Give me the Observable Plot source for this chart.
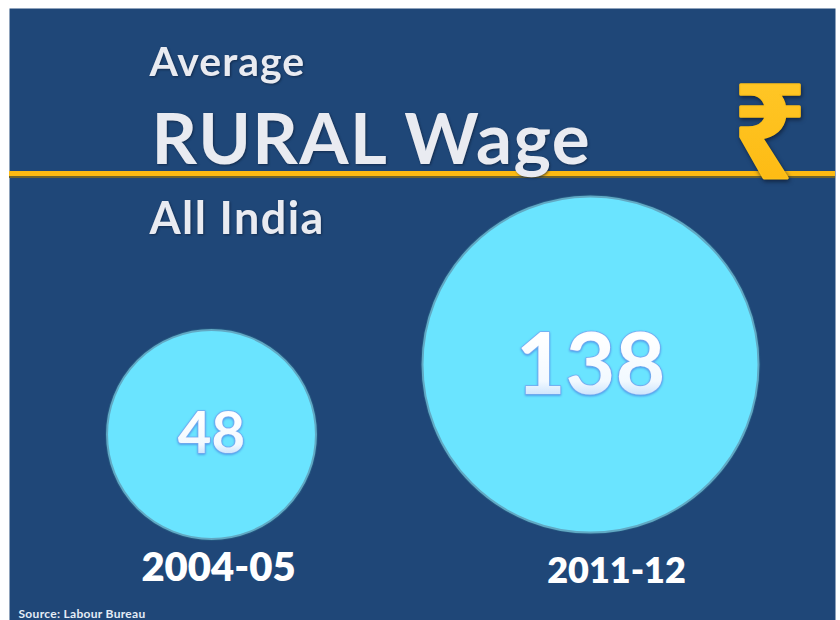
<!DOCTYPE html>
<html>
<head>
<meta charset="utf-8">
<script src="https://cdn.jsdelivr.net/npm/d3@7"></script>
<script src="https://cdn.jsdelivr.net/npm/@observablehq/plot@0.6"></script>
<style>
html,body{margin:0;padding:0;background:#fff;overflow:hidden}
svg{display:block}
.soft text{filter:drop-shadow(1px 1px 1px rgba(10,25,50,.6))}
.ls1 text{letter-spacing:1px}
.ls14 text{letter-spacing:1.4px}
.src text{letter-spacing:.3px}
.bevel text{filter:drop-shadow(0 1px 1px rgba(60,110,220,.65))}
.rupee text{filter:drop-shadow(1px 2px 2px rgba(10,20,40,.7));stroke-linejoin:round}
</style>
</head>
<body>
<script>
const years = ["2004-05", "2011-12"];
const wages = [48, 138];
const heading = "Average";
const headline = "RURAL Wage";
const region = "All India";
const currency = "₹";
const source = "Source: Labour Bureau";

const table = years.map((year, i) => ({year, value: wages[i]}));
const font = "Lato, 'Open Sans', sans-serif";

const defs = () => {
  const d = d3.create("svg:defs");
  const digit = d.append("linearGradient").attr("id", "digit").attr("x1", 0).attr("x2", 0).attr("y1", 0).attr("y2", 1);
  [[0, "#cfe8ff"], [0.25, "#ffffff"], [0.7, "#f2f9ff"], [1, "#a0caf9"]].forEach(([o, c]) =>
    digit.append("stop").attr("offset", o).attr("stop-color", c));
  const gold = d.append("linearGradient").attr("id", "gold").attr("x1", 0).attr("x2", 0).attr("y1", 0).attr("y2", 1);
  [[0, "#ffcb2e"], [1, "#fdb70d"]].forEach(([o, c]) =>
    gold.append("stop").attr("offset", o).attr("stop-color", c));
  return d.node();
};

const titleText = (t, dx, dy, fontSize, className) => Plot.text([t], {
  text: d => d, frameAnchor: "top-left", textAnchor: "start", lineAnchor: "middle",
  dx, dy, fontSize, fontFamily: font, fontWeight: 700, fill: "#e9ebf1", className
});

const yearLabel = (i, dx, dy, fontSize) => Plot.text([table[i]], {
  x: "year", y: "value", text: "year", dx, dy, fontSize,
  fontFamily: font, fontWeight: 800, fill: "#ffffff"
});

const valueLabel = (i, fontSize, dx, dy) => Plot.text([table[i]], {
  x: "year", y: "value", text: d => String(d.value), dx, dy, fontSize,
  fontFamily: font, fontWeight: 700, fill: "url(#digit)",
  stroke: "#78aaf0", strokeWidth: 1.6, className: "bevel"
});

const plot = Plot.plot({
  width: 840, height: 620,
  marginLeft: 9, marginRight: 5, marginTop: 8, marginBottom: 0,
  style: {background: "#ffffff", fontFamily: font, overflow: "hidden"},
  x: {type: "point", domain: years, range: [211, 590], padding: 0, axis: null},
  y: {type: "linear", domain: wages, range: [434, 364], axis: null},
  r: {type: "pow", exponent: 0.45, domain: [0, wages[1]], range: [0, 168]},
  marks: [
    defs,
    Plot.frame({fill: "#1f4778", stroke: "none"}),
    Plot.ruleY([wages[0]], {dy: -260, stroke: "#6b6330", strokeWidth: 7}),
    Plot.ruleY([wages[0]], {dy: -261, stroke: "#fcba12", strokeWidth: 5}),
    Plot.dot(table, {x: "year", y: "value", r: "value", fill: "#6ae4ff", stroke: "#24557f", strokeWidth: 4}),
    Plot.dot(table, {x: "year", y: "value", r: d => d.value, fill: "#6ae4ff", stroke: "#61a9c4", strokeWidth: 2}),
    titleText(heading, 140, 54, 41, "soft ls1"),
    titleText(headline, 142, 133, 71, "soft ls14"),
    titleText(region, 140, 211, 45, "soft ls14"),
    Plot.text([currency], {
      text: d => d, frameAnchor: "top-left", textAnchor: "middle", lineAnchor: "middle",
      dx: 760, dy: 128, fontSize: 130, fontFamily: "'Noto Sans', 'DejaVu Sans'", fontWeight: 700,
      fill: "url(#gold)", stroke: "#fdc01a", strokeWidth: 3, className: "rupee"
    }),
    valueLabel(0, 58, 0, 0),
    valueLabel(1, 86, 0, 2),
    yearLabel(0, 7, 134, 40),
    yearLabel(1, 26, 207, 36),
    Plot.text([source], {
      text: d => d, frameAnchor: "top-left", textAnchor: "start", lineAnchor: "middle",
      dx: 9, dy: 606, fontSize: 12, fontFamily: font, fontWeight: 700, fill: "#e4ecf6", className: "src"
    })
  ]
});
document.body.appendChild(plot);
</script>
</body>
</html>
